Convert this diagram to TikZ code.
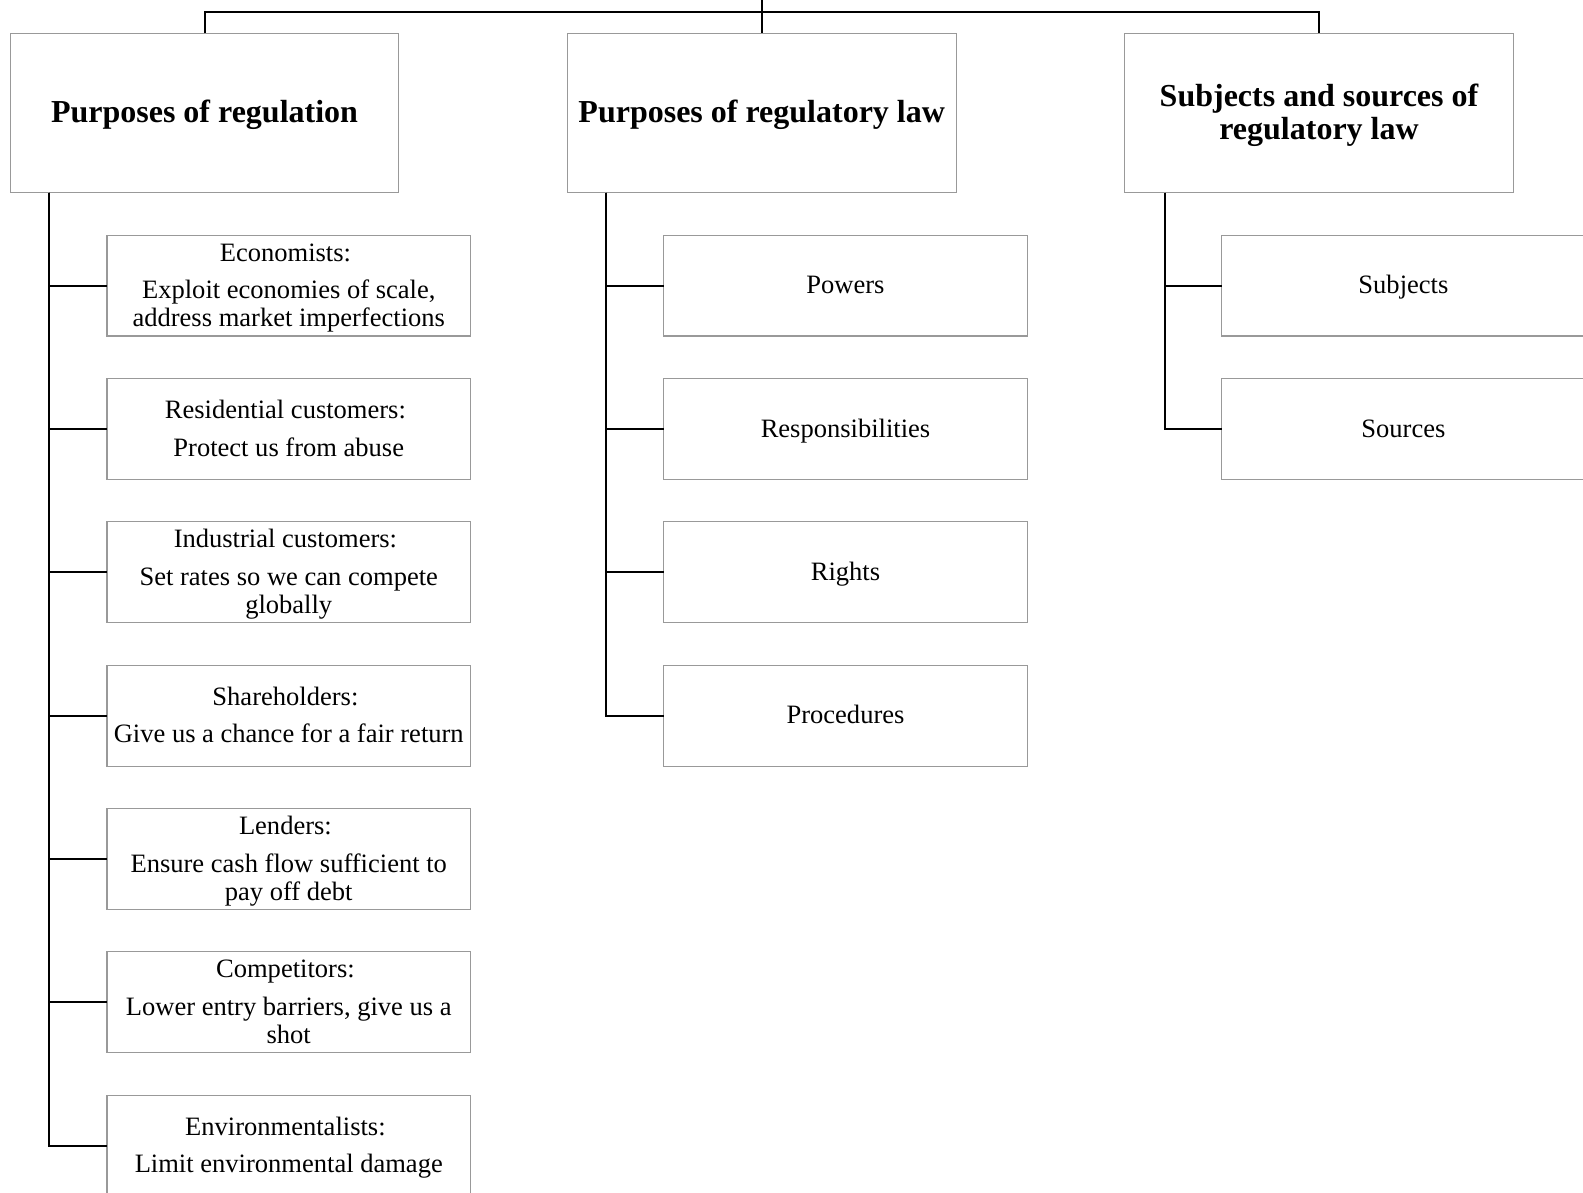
\documentclass[tikz,border=0pt]{standalone}
\usepackage{fontspec}
\setmainfont{Liberation Serif}
\usetikzlibrary{calc}
\newcommand\mytop{\rule{0pt}{17pt}}
\newcommand\mybot{\rule[-4.5pt]{0pt}{4.5pt}}
\newcommand\ttop{\rule{0pt}{20pt}}
\newcommand\tbot{\rule[-4.5pt]{0pt}{4.5pt}}
\newcommand\hd[1]{\mytop#1\kern5pt}
\tikzset{
  topbox/.style={draw=black!40, line width=0.8pt, fill=white, minimum width=291.5pt, minimum height=119.6pt, inner sep=2pt, outer sep=0pt, align=center, font=\fontsize{24}{24.75}\selectfont\bfseries},
  childbox/.style={draw=black!40, line width=0.8pt, fill=white, minimum width=272.6pt, minimum height=75.6pt, inner sep=2pt, outer sep=0pt, align=center, font=\fontsize{19.9}{21}\selectfont},
  conn/.style={draw=black, line width=1.5pt}
}
\begin{document}
\begin{tikzpicture}[x=0.75pt,y=-0.75pt]
\useasboundingbox (0,0) rectangle (1583,1192);
\clip (0,0) rectangle (1583,1192);
% top boxes
\node[topbox] (t1) at (204.5,113) {\ttop Purposes of regulation\tbot};
\node[topbox] (t2) at (761.7,113) {\ttop Purposes of regulatory law\tbot};
\node[topbox] (t3) at (1319,113) {\ttop Subjects and sources of\\regulatory law\tbot};
\coordinate (root) at (761.7,-10);
\draw[conn] (t1.north) -- ++(0,-21.2) -| (t3.north);
\draw[conn] (root) -- (t2.north);
% left column
\node[childbox] (l1) at (288.75,285.6) {\hd{Economists:}\\[7.2pt]Exploit economies of scale,\\address market imperfections\mybot};
\node[childbox] (l2) at (288.75,428.95) {\hd{Residential customers:}\\[7.2pt]Protect us from abuse\mybot};
\node[childbox] (l3) at (288.75,572.3) {\hd{Industrial customers:}\\[7.2pt]Set rates so we can compete\\globally\mybot};
\node[childbox] (l4) at (288.75,715.65) {\hd{Shareholders:}\\[7.2pt]Give us a chance for a fair return\mybot};
\node[childbox] (l5) at (288.75,859) {\hd{Lenders:}\\[7.2pt]Ensure cash flow sufficient to\\pay off debt\mybot};
\node[childbox] (l6) at (288.75,1002.35) {\hd{Competitors:}\\[7.2pt]Lower entry barriers, give us a\\shot\mybot};
\node[childbox] (l7) at (288.75,1145.7) {\hd{Environmentalists:}\\[7.2pt]Limit environmental damage\mybot};
% middle column
\node[childbox] (m1) at (845.5,285.6) {\mytop Powers\mybot};
\node[childbox] (m2) at (845.5,428.95) {\mytop Responsibilities\mybot};
\node[childbox] (m3) at (845.5,572.3) {\mytop Rights\mybot};
\node[childbox] (m4) at (845.5,715.65) {\mytop Procedures\mybot};
% right column
\node[childbox] (r1) at (1403.4,285.6) {\mytop Subjects\mybot};
\node[childbox] (r2) at (1403.4,428.95) {\mytop Sources\mybot};
% branch origins
\coordinate (b1) at ($(t1.south west)+(38.5,0)$);
\coordinate (b2) at ($(t2.south west)+(38.5,0)$);
\coordinate (b3) at ($(t3.south west)+(40,0)$);
\foreach \n in {l1,l2,l3,l4,l5,l6,l7} {\draw[conn] (b1) |- (\n.west);}
\foreach \n in {m1,m2,m3,m4} {\draw[conn] (b2) |- (\n.west);}
\foreach \n in {r1,r2} {\draw[conn] (b3) |- (\n.west);}
\end{tikzpicture}
\end{document}
